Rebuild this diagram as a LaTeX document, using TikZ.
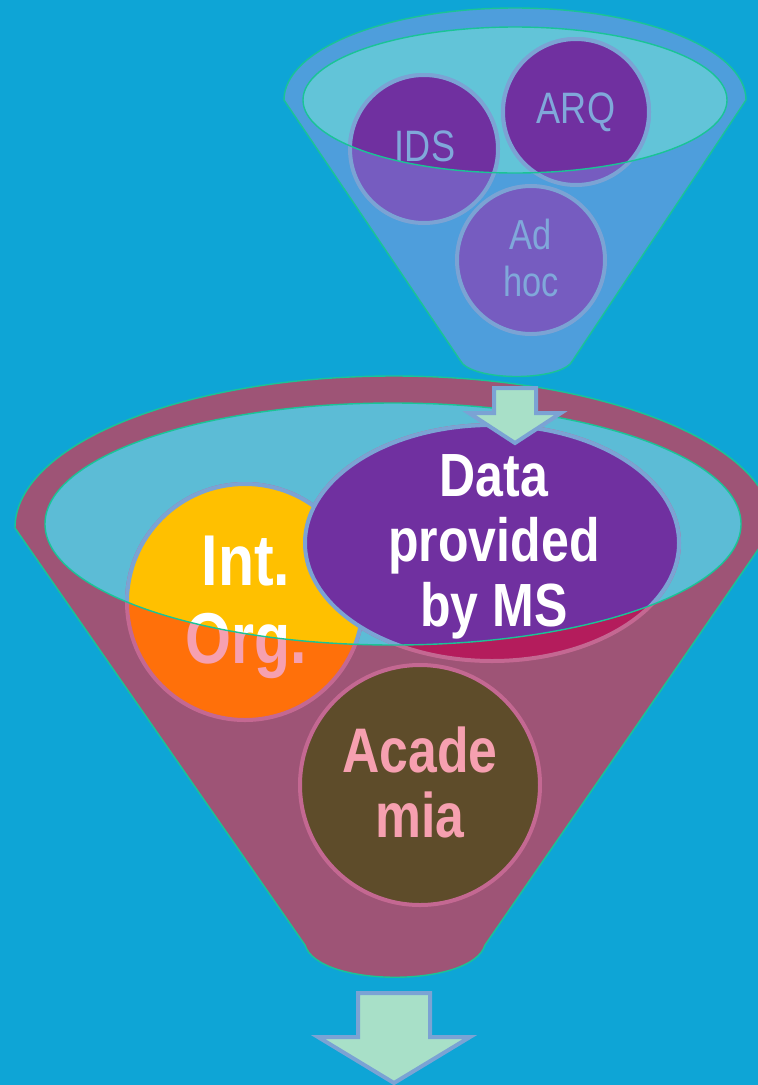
\documentclass[tikz,border=0pt]{standalone}
\usepackage{fontspec}
\newfontfamily\narrowfont[FakeStretch=0.82]{Liberation Sans}
\definecolor{bg}{RGB}{14,165,214}
\definecolor{topBody}{RGB}{78,158,220}
\definecolor{topInner}{RGB}{98,196,216}
\definecolor{vividPurple}{RGB}{112,48,160}
\definecolor{fadedPurple}{RGB}{118,92,192}
\definecolor{circBorder}{RGB}{123,163,212}
\definecolor{topText}{RGB}{128,168,218}
\definecolor{botBody}{RGB}{158,84,118}
\definecolor{botInner}{RGB}{92,188,214}
\definecolor{sunYellow}{RGB}{255,192,0}
\definecolor{deepOrange}{RGB}{255,112,10}
\definecolor{crimsonR}{RGB}{180,28,92}
\definecolor{oliveBrown}{RGB}{94,76,42}
\definecolor{fadeBorder}{RGB}{196,104,146}
\definecolor{pinkText}{RGB}{246,160,176}
\definecolor{rimGreen}{RGB}{26,196,150}
\definecolor{mint}{RGB}{168,224,200}
\begin{document}
\begin{tikzpicture}[x=1pt,y=-1pt,
  rim/.style={draw=rimGreen,line width=1.4pt},
  bubble/.style={line width=4pt},
  toptext/.style={font=\narrowfont\fontsize{44}{47}\selectfont,text=topText,align=center,inner sep=0pt},
  bigtext/.style={font=\narrowfont\bfseries\fontsize{61}{65}\selectfont,align=center,inner sep=0pt},
  blockarrow/.style={fill=mint,draw=circBorder,line width=4pt,line join=miter}]
\useasboundingbox (0,0) rectangle (758,1085);
\clip (0,0) rectangle (758,1085);
\fill[bg] (0,0) rectangle (758,1085);

% ---------- lower funnel ----------
\fill[botBody] (15,528) arc[start angle=180,end angle=0,x radius=379pt,y radius=152pt]
  -- (485,945) .. controls (472,988) and (318,988) .. (305,945) -- cycle;
\fill[botInner] (393,524) ellipse[x radius=348pt,y radius=121pt];
% faded (inside funnel body)
\draw[bubble,fill=deepOrange,draw=fadeBorder] (245,602) circle[radius=118pt];
\node[bigtext,text=pinkText,font=\narrowfont\bfseries\fontsize{72}{78}\selectfont] (intorgF) at (246,607) {Int.\\Org.};
\draw[bubble,fill=crimsonR,draw=fadeBorder] (492,543) ellipse[x radius=187pt,y radius=118pt];
\node[bigtext,text=pinkText] (dataF) at (494,547) {Data\\provided\\by MS};
\draw[bubble,fill=oliveBrown,draw=fadeBorder] (420,785) circle[radius=120pt];
\node[bigtext,text=pinkText,font=\narrowfont\bfseries\fontsize{63}{65}\selectfont] (academia) at (420,782) {Acade\\mia};
% vivid (seen through the opening)
\begin{scope}
  \clip (393,524) ellipse[x radius=348pt,y radius=121pt];
  \draw[bubble,fill=sunYellow,draw=circBorder] (245,602) circle[radius=118pt];
  \node[bigtext,text=white,font=\narrowfont\bfseries\fontsize{72}{78}\selectfont] (intorg) at (246,607) {Int.\\Org.};
  \draw[bubble,fill=vividPurple,draw=circBorder] (492,543) ellipse[x radius=187pt,y radius=118pt];
  \node[bigtext,text=white] (data) at (494,547) {Data\\provided\\by MS};
\end{scope}
\draw[rim] (15,528) arc[start angle=180,end angle=0,x radius=379pt,y radius=152pt]
  -- (485,945) .. controls (472,988) and (318,988) .. (305,945) -- cycle;
\draw[rim] (393,524) ellipse[x radius=348pt,y radius=121pt];

% ---------- upper funnel ----------
\fill[topBody] (284,100) arc[start angle=180,end angle=0,x radius=231pt,y radius=92pt]
  -- (573,360) .. controls (563,382) and (470,382) .. (460,360) -- cycle;
\fill[topInner] (515,100) ellipse[x radius=212pt,y radius=73pt];
\draw[bubble,fill=fadedPurple,draw=circBorder] (424,149) circle[radius=74pt];
\draw[bubble,fill=fadedPurple,draw=circBorder] (576,112) circle[radius=73pt];
\draw[bubble,fill=fadedPurple,draw=circBorder] (531,260) circle[radius=74pt];
\node[toptext] (idsF) at (425,146) {IDS};
\node[toptext] (arqF) at (576,112) {ARQ};
\node[toptext,font=\narrowfont\fontsize{42}{47}\selectfont] (adhoc) at (531,258) {Ad\\hoc};
\begin{scope}
  \clip (515,100) ellipse[x radius=212pt,y radius=73pt];
  \draw[bubble,fill=vividPurple,draw=circBorder] (424,149) circle[radius=74pt];
  \draw[bubble,fill=vividPurple,draw=circBorder] (576,112) circle[radius=73pt];
  \node[toptext] (ids) at (425,146) {IDS};
  \node[toptext] (arq) at (576,112) {ARQ};
\end{scope}
\draw[rim] (284,100) arc[start angle=180,end angle=0,x radius=231pt,y radius=92pt]
  -- (573,360) .. controls (563,382) and (470,382) .. (460,360) -- cycle;
\draw[rim] (515,100) ellipse[x radius=212pt,y radius=73pt];

% ---------- block arrows ----------
\draw[blockarrow] (494,388) -- (536,388) -- (536,413) -- (561,413) -- (515,443)
  -- (469,413) -- (494,413) -- cycle;
\draw[blockarrow] (358,993) -- (430,993) -- (430,1037) -- (470,1037) -- (394,1083)
  -- (318,1037) -- (358,1037) -- cycle;
\end{tikzpicture}
\end{document}
